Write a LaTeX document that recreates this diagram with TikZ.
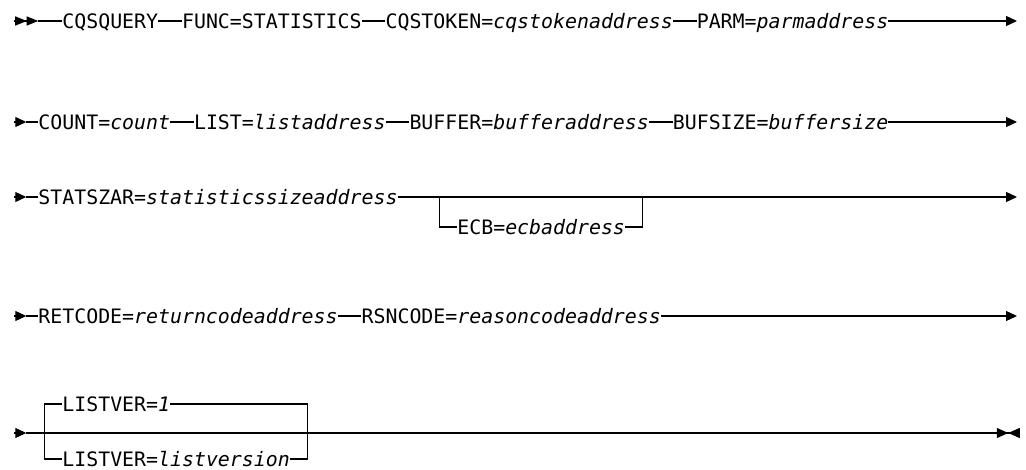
\documentclass[tikz,border=0pt]{standalone}
\usepackage{fontspec}
\newfontfamily\diafont{DejaVu Sans Mono}
\usetikzlibrary{arrows.meta}

\begin{document}
\begin{tikzpicture}[x=1pt,y=-1pt,
    tok/.style={font={\diafont\fontsize{19.88pt}{20pt}\selectfont}, inner sep=0pt,
                text height=14.5pt, text depth=0pt, anchor=west},
    rail/.style={line width=1.2pt},
    tip/.style={-{Triangle[length=11pt,width=10pt]}},
    twotip/.style={-{Triangle[length=11.5pt,width=9pt] Triangle[length=11.5pt,width=9pt]}},
    stoptip/.style={-{Triangle[length=11.5pt,width=10pt] Triangle[reversed,length=11.5pt,width=10pt]}}]
    \useasboundingbox (0,0) rectangle (1026,470);
    % 字符宽度与各行的高度
    \pgfmathsetmacro{\cw}{11.97} % 一个字符的宽度
    \pgfmathsetmacro{\xo}{14.3}  % 第0列的位置
    \pgfmathsetmacro{\xe}{1017}  % 行末箭头
    \pgfmathsetmacro{\ya}{21}
    \pgfmathsetmacro{\yb}{122}
    \pgfmathsetmacro{\yc}{197}
    \pgfmathsetmacro{\yd}{316}
    \pgfmathsetmacro{\ye}{433}

    % 第一行
    \coordinate (r1s) at (\xo,\ya);
    \coordinate (r1a) at ({\xo+2*\cw},\ya);
    \coordinate (r1e) at (\xe,\ya);
    \node[tok] (cqsquery) at ({\xo+4*\cw},\ya) {CQSQUERY};
    \node[tok] (func) at ({\xo+14*\cw},\ya) {FUNC=STATISTICS};
    \node[tok] (cqstoken) at ({\xo+31*\cw},\ya) {CQSTOKEN=\textit{cqstokenaddress}};
    \node[tok] (parm) at ({\xo+57*\cw},\ya) {PARM=\textit{parmaddress}};
    \draw[rail,twotip] (r1s) -- (r1a);
    \draw[rail] (r1a) -- (cqsquery.west) (cqsquery.east) -- (func.west)
        (func.east) -- (cqstoken.west) (cqstoken.east) -- (parm.west);
    \draw[rail,tip] (parm.east) -- (r1e);

    % 第二行
    \coordinate (r2s) at (\xo,\yb);
    \coordinate (r2a) at ({\xo+\cw},\yb);
    \coordinate (r2e) at (\xe,\yb);
    \node[tok] (count) at ({\xo+2*\cw},\yb) {COUNT=\textit{count}};
    \node[tok] (list) at ({\xo+15*\cw},\yb) {LIST=\textit{listaddress}};
    \node[tok] (buffer) at ({\xo+33*\cw},\yb) {BUFFER=\textit{bufferaddress}};
    \node[tok] (bufsize) at ({\xo+55*\cw},\yb) {BUFSIZE=\textit{buffersize}};
    \draw[rail,tip] (r2s) -- (r2a);
    \draw[rail] (r2a) -- (count.west) (count.east) -- (list.west)
        (list.east) -- (buffer.west) (buffer.east) -- (bufsize.west);
    \draw[rail,tip] (bufsize.east) -- (r2e);

    % 第三行, ECB 可选
    \coordinate (r3s) at (\xo,\yc);
    \coordinate (r3a) at ({\xo+\cw},\yc);
    \coordinate (r3e) at (\xe,\yc);
    \coordinate (ecbl) at ({\xo+35.5*\cw},\yc);
    \coordinate (ecbr) at ({\xo+52.5*\cw},\yc);
    \node[tok] (statszar) at ({\xo+2*\cw},\yc) {STATSZAR=\textit{statisticssizeaddress}};
    \node[tok] (ecb) at ({\xo+37*\cw},\yc+30) {ECB=\textit{ecbaddress}};
    \draw[rail,tip] (r3s) -- (r3a);
    \draw[rail] (r3a) -- (statszar.west);
    \draw[rail,tip] (statszar.east) -- (r3e);
    \draw[rail] (ecbl) |- (ecb.west) (ecbr) |- (ecb.east);

    % 第四行
    \coordinate (r4s) at (\xo,\yd);
    \coordinate (r4a) at ({\xo+\cw},\yd);
    \coordinate (r4e) at (\xe,\yd);
    \node[tok] (retcode) at ({\xo+2*\cw},\yd) {RETCODE=\textit{returncodeaddress}};
    \node[tok] (rsncode) at ({\xo+29*\cw},\yd) {RSNCODE=\textit{reasoncodeaddress}};
    \draw[rail,tip] (r4s) -- (r4a);
    \draw[rail] (r4a) -- (retcode.west) (retcode.east) -- (rsncode.west);
    \draw[rail,tip] (rsncode.east) -- (r4e);

    % 第五行, LISTVER 选择
    \coordinate (r5s) at (\xo,\ye);
    \coordinate (r5a) at ({\xo+\cw},\ye);
    \coordinate (r5e) at ({\xo+84*\cw},\ye);
    \coordinate (lvl) at ({\xo+2.5*\cw},\ye);
    \coordinate (lvr) at ({\xo+24.5*\cw},\ye);
    \node[tok] (lvone) at ({\xo+4*\cw},\ye-29) {LISTVER=\textit{1}};
    \node[tok] (lvany) at ({\xo+4*\cw},\ye+26) {LISTVER=\textit{listversion}};
    \draw[rail,tip] (r5s) -- (r5a);
    \draw[rail,stoptip] (r5a) -- (r5e);
    \draw[rail] (lvone.west) -| (lvl) |- (lvany.west);
    \draw[rail] (lvone.east) -| (lvr) |- (lvany.east);
\end{tikzpicture}
\end{document}
